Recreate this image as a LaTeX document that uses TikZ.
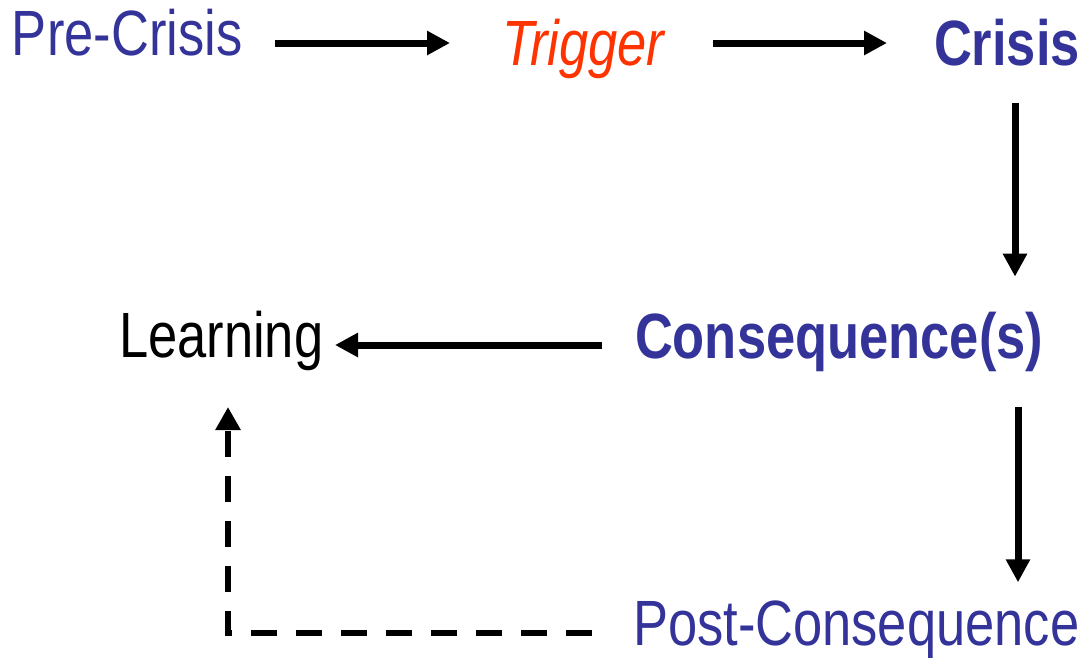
\documentclass[tikz,border=0pt]{standalone}
\usepackage{fontspec}
\newfontfamily\nar[FakeStretch=0.82]{Liberation Sans}
\usetikzlibrary{arrows.meta,calc}
\definecolor{dblue}{RGB}{51,51,153}
\definecolor{tred}{RGB}{255,51,0}
\begin{document}
\begin{tikzpicture}[x=1pt,y=-1pt,
  lbl/.style={inner sep=0pt,outer sep=0pt,anchor=base west,font=\nar\fontsize{64}{70}\selectfont},
  arr/.style={line width=7pt,-{Triangle[length=23pt,width=23pt]}},
  darr/.style={line width=6.5pt,dash pattern=on 26pt off 19pt,-{Triangle[length=23pt,width=24pt]}}]
\useasboundingbox (0,0) rectangle (1087,657);
\node[lbl,text=dblue] (pre) at (12,55) {Pre-Crisis};
\node[lbl,text=tred,font=\nar\itshape\fontsize{64}{70}\selectfont] (trig) at (502,65) {Trigger};
\node[lbl,text=dblue,font=\nar\bfseries\fontsize{64}{70}\selectfont] (crisis) at (934,65) {Crisis};
\node[lbl,text=dblue,font=\nar\bfseries\fontsize{64}{70}\selectfont] (cons) at (635,358) {Consequence(s)};
\node[lbl] (learn) at (119,357) {Learning};
\node[lbl,text=dblue] (post) at (633,645) {Post-Consequence};
\draw[arr] ($(pre.base west)+(263,-12)$) -- ($(trig.base west)+(-52,-22)$);
\draw[arr] ($(trig.base west)+(211,-22)$) -- ($(crisis.base west)+(-47,-22)$);
\draw[arr] ($(crisis.base west)+(81,38)$) -- ($(crisis.base west |- cons.north)+(81,-35)$);
\draw[arr] ($(cons.base west)+(-33,-13)$) -- ($(learn.base west)+(216,-12)$);
\draw[arr] ($(crisis.base west |- cons.base)+(84,49)$) -- ($(crisis.base west |- post.north)+(84,-18)$);
\draw[darr] ($(post.base west)+(-41,-12)$) -| ($(learn.base west)+(109,50)$);
\end{tikzpicture}
\end{document}
